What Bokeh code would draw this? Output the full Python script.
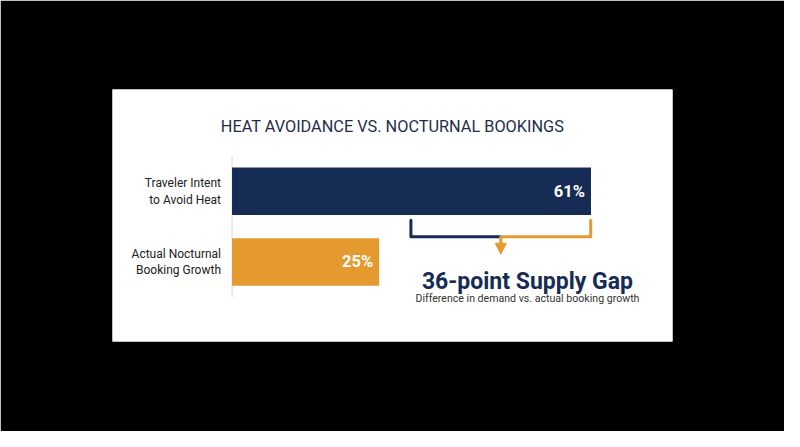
from bokeh.plotting import figure
from bokeh.models import ColumnDataSource, Range1d, Arrow, NormalHead
from bokeh.core.properties import value
from bokeh.embed import file_html
from bokeh.resources import INLINE

# ---- data ----
title_text = "HEAT AVOIDANCE VS. NOCTURNAL BOOKINGS"
categories = ["Traveler Intent\nto Avoid Heat", "Actual Nocturnal\nBooking Growth"]
values = [61, 25]
value_labels = ["61%", "25%"]
gap_title = "36-point Supply Gap"
gap_subtitle = "Difference in demand vs. actual booking growth"

NAVY = "#172c55"
ORANGE = "#e59a2f"
TITLE_C = "#1f2d4d"
FONT = "Roboto"

n = len(categories)
ys = list(range(n))
colors = [NAVY, ORANGE]
gap = values[0] - values[1]

p = figure(width=784, height=431, output_backend="svg", toolbar_location=None,
           x_range=Range1d(-20.31, 74.85), y_range=Range1d(2.124, -1.438),
           x_axis_location=None, y_axis_location=None,
           min_border_left=112, min_border_right=112,
           min_border_top=89, min_border_bottom=90)
p.title.visible = False
p.grid.visible = False
p.background_fill_color = "white"
p.border_fill_color = "black"
p.outline_line_color = None

src = ColumnDataSource(dict(y=ys, v=values, c=colors, cat=categories, lab=value_labels))

# axis line
p.segment(x0=0, x1=0, y0=-0.5, y1=n - 0.5, line_color="#d9d9d9", line_width=1)

# bars
p.hbar(y="y", left=0, right="v", height=0.67, fill_color="c", line_color=None, source=src)

# category labels
p.text(x=0, y="y", text="cat", source=src, x_offset=-11, text_align="right",
       text_baseline="middle", text_font=value(FONT), text_font_size="12px",
       text_color="#222222", text_line_height=1.2)

# value labels
p.text(x="v", y="y", text="lab", source=src, x_offset=-6, text_align="right",
       text_baseline="middle", text_font=value(FONT), text_font_size="16.5px",
       text_font_style="bold", text_color="white")

# title
p.text(x=[27.27], y=[-0.911], text=[title_text], text_align="center",
       text_baseline="alphabetic", text_font=value(FONT), text_font_size="16.3px",
       text_color=TITLE_C)

# bracket
bx_left = values[0] - 0.85 * gap
bx_right = values[0] - 0.05
bx_mid = (bx_left + bx_right) / 2
y_top, y_bot, y_tip = ys[0] + 0.409, ys[0] + 0.644, ys[0] + 0.89
p.line(x=[bx_left, bx_left, bx_mid], y=[y_top, y_bot, y_bot], line_color=NAVY,
       line_width=3, line_join="round", line_cap="round")
p.line(x=[bx_mid, bx_right, bx_right], y=[y_bot, y_bot, y_top], line_color=ORANGE,
       line_width=3, line_join="round", line_cap="round")
p.add_layout(Arrow(x_start=bx_mid, y_start=y_bot, x_end=bx_mid, y_end=y_tip,
                   line_color=ORANGE, line_width=3,
                   end=NormalHead(size=11, fill_color=ORANGE, line_color=ORANGE, line_width=1)))

# gap text
p.text(x=[50.2], y=[1.28], text=[gap_title], text_align="center",
       text_baseline="alphabetic", text_font=value(FONT), text_font_size="23px",
       text_font_style="bold", text_color=NAVY)
p.text(x=[50.2], y=[1.513], text=[gap_subtitle], text_align="center",
       text_baseline="middle", text_font=value(FONT), text_font_size="10.6px",
       text_color="#333333")

open("out.html", "w").write(file_html(p, INLINE))
